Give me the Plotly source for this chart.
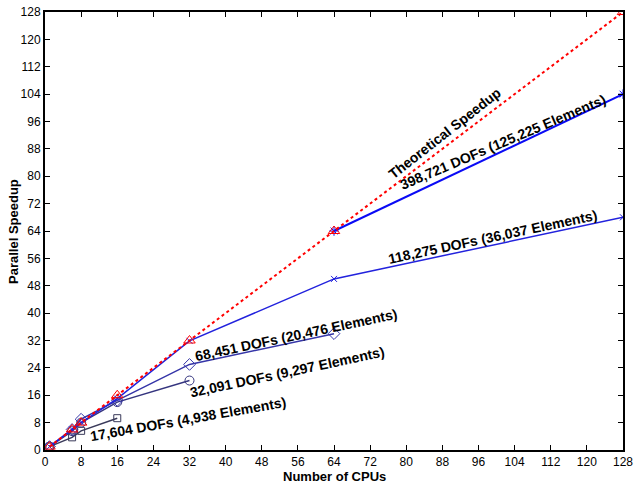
import plotly.graph_objects as go

# Data
theory_x = [1, 6, 8, 16, 32, 64, 128]
theory_y = [1, 6, 8, 16, 32, 64, 128]

dof398_x = [64, 128]
dof398_y = [64, 104]

dof118_x = [1, 6, 8, 16, 32, 64, 128]
dof118_y = [1, 6, 8, 15, 31.9, 50, 68]

dof68_x = [1, 6, 8, 16, 32, 64]
dof68_y = [1, 6, 9, 14.5, 25, 34]

dof32_x = [1, 6, 8, 16, 32]
dof32_y = [1, 5.5, 8, 14, 20.3]

dof17_x = [1, 6, 8, 16]
dof17_y = [1, 3.7, 5.6, 9.3]

ticks = list(range(0, 129, 8))

labels = [
    ("Theoretical Speedup", 88.6, 92.5, -38),
    ("398,721 DOFs (125,225 Elements)", 101.4, 90.0, -23),
    ("118,275 DOFs (36,037 Elements)", 99.0, 62.3, -12),
    ("68,451 DOFs (20,476 Elements)", 55.6, 33.7, -12),
    ("32,091 DOFs (9,297 Elements)", 53.6, 22.7, -12),
    ("17,604 DOFs (4,938 Elements)", 31.7, 9.0, -10),
]

FONT = "Liberation Sans, Arial, Helvetica"

fig = go.Figure()

fig.add_trace(go.Scatter(x=dof17_x, y=dof17_y, mode="lines+markers",
                         line=dict(color="#3a3a5a", width=1.5),
                         marker=dict(symbol="square-open", size=7, color="#3a3a5a", line=dict(width=1))))
fig.add_trace(go.Scatter(x=dof32_x, y=dof32_y, mode="lines+markers",
                         line=dict(color="#35357f", width=1.5),
                         marker=dict(symbol="circle-open", size=9, color="#35357f", line=dict(width=1))))
fig.add_trace(go.Scatter(x=dof68_x, y=dof68_y, mode="lines+markers",
                         line=dict(color="#3535a8", width=1.5),
                         marker=dict(symbol="diamond-open", size=9, color="#3535a8", line=dict(width=1))))
fig.add_trace(go.Scatter(x=dof118_x, y=dof118_y, mode="lines+markers",
                         line=dict(color="#2222dd", width=1.5),
                         marker=dict(symbol="x-thin", size=6, color="#2222dd", line=dict(width=1, color="#2222dd"))))
fig.add_trace(go.Scatter(x=dof398_x, y=dof398_y, mode="lines+markers",
                         line=dict(color="#0a0af5", width=2),
                         marker=dict(symbol="asterisk", size=8, color="#0a0af5", line=dict(width=1, color="#0a0af5"))))
fig.add_trace(go.Scatter(x=theory_x, y=theory_y, mode="lines+markers",
                         line=dict(color="#ff0000", width=2, dash="3px,3px"),
                         marker=dict(symbol="triangle-up-open", size=10, color="#ff0000", line=dict(width=1))))

for text, x, y, ang in labels:
    fig.add_annotation(x=x, y=y, text="<b>%s</b>" % text, showarrow=False,
                       textangle=ang, font=dict(family=FONT, size=14, color="black"))

# axis titles
fig.add_annotation(x=0.5, y=-0.080, xref="paper", yref="paper", text="<b>Number of CPUs</b>",
                   showarrow=False, xanchor="center", yanchor="bottom", borderpad=0,
                   font=dict(family=FONT, size=13, color="black"))
fig.add_annotation(x=-0.0554, y=0.5, xref="paper", yref="paper", text="<b>Parallel Speedup</b>",
                   showarrow=False, xanchor="center", yanchor="middle", textangle=-90,
                   font=dict(family=FONT, size=13, color="black"))

axis_common = dict(range=[0, 128], tickvals=ticks, ticks="inside", ticklen=5, tickwidth=1,
                   tickcolor="black", showline=True, linecolor="black", linewidth=2,
                   mirror="ticks", showgrid=False, zeroline=False, automargin=False,
                   tickfont=dict(family=FONT, size=12, color="black"))

fig.update_xaxes(**axis_common)
fig.update_yaxes(**axis_common)

fig.update_layout(width=637, height=486, margin=dict(l=45, r=14, t=12, b=36),
                  plot_bgcolor="white", paper_bgcolor="white", showlegend=False)

fig.write_html("out.html")
